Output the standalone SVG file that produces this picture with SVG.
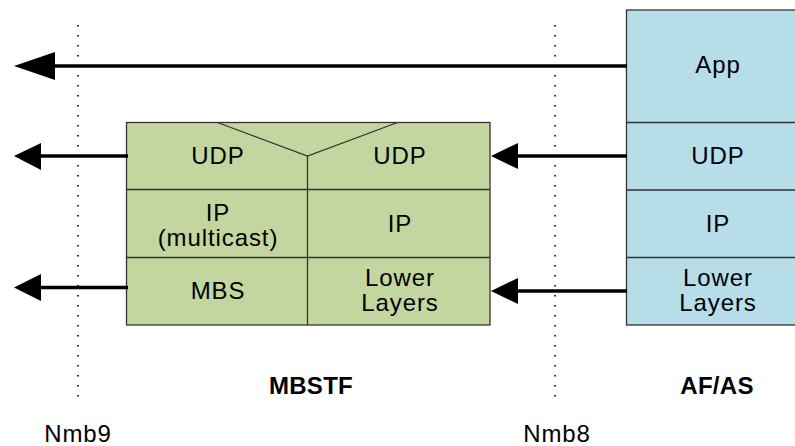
<svg xmlns="http://www.w3.org/2000/svg" width="795" height="446" viewBox="0 0 795 446">
<defs>
<style>
.t{font-family:"Liberation Sans",Arial,sans-serif;font-size:24px;letter-spacing:0.9px;fill:#000;text-anchor:middle}
.b{font-weight:bold;letter-spacing:0.3px}
.g{fill:#c4d6a0;stroke:#333;stroke-width:1.3}
.bl{fill:#b7dde8;stroke:#333;stroke-width:1.3}
.ln{fill:none;stroke:#333;stroke-width:1.3}
.dot{fill:none;stroke:#000;stroke-width:1.6;stroke-dasharray:1.6 8.4}
.ar{fill:none;stroke:#000;stroke-width:3.5}
</style>
</defs>
<g id="refpoints">
<line class="dot" x1="78" y1="25" x2="78" y2="398"/>
<line class="dot" x1="555" y1="25" x2="555" y2="398"/>
<text class="t" x="78" y="442">Nmb9</text>
<text class="t" x="557" y="442">Nmb8</text>
</g>
<g id="mbstf">
<rect class="g" x="126.5" y="122.5" width="363.5" height="202.5"/>
<line class="ln" x1="126.5" y1="189.5" x2="490" y2="189.5"/>
<line class="ln" x1="126.5" y1="257.5" x2="490" y2="257.5"/>
<line class="ln" x1="307.5" y1="156" x2="307.5" y2="325"/>
<polyline class="ln" points="217.5,122.5 307.5,156 397.5,122.5"/>
<text class="t" x="218" y="164">UDP</text>
<text class="t" x="218" y="221">IP</text>
<text class="t" x="218" y="246">(multicast)</text>
<text class="t" x="218" y="299">MBS</text>
<text class="t" x="400" y="164">UDP</text>
<text class="t" x="400" y="232">IP</text>
<text class="t" x="400" y="286">Lower</text>
<text class="t" x="400" y="311">Layers</text>
<text class="t b" x="311" y="394">MBSTF</text>
</g>
<g id="afas">
<rect class="bl" x="626.5" y="10" width="190" height="315"/>
<line class="ln" x1="626.5" y1="122.5" x2="800" y2="122.5"/>
<line class="ln" x1="626.5" y1="190" x2="800" y2="190"/>
<line class="ln" x1="626.5" y1="257.5" x2="800" y2="257.5"/>
<text class="t" x="718" y="73">App</text>
<text class="t" x="718" y="164">UDP</text>
<text class="t" x="718" y="232">IP</text>
<text class="t" x="718" y="286">Lower</text>
<text class="t" x="718" y="311">Layers</text>
<text class="t b" x="717" y="394">AF/AS</text>
</g>
<g id="connectors">
<line class="ar" x1="627" y1="66" x2="50" y2="66"/>
<polygon points="14,66 55,52 55,80" fill="#000"/>
<line class="ar" x1="128" y1="156" x2="38" y2="156"/>
<polygon points="14,156 41,143 41,170" fill="#000"/>
<line class="ar" x1="627" y1="156" x2="515" y2="156"/>
<polygon points="491,156 518,143 518,169" fill="#000"/>
<line class="ar" x1="128" y1="287.5" x2="38" y2="287.5"/>
<polygon points="14,287.5 41,274 41,301" fill="#000"/>
<line class="ar" x1="627" y1="291" x2="515" y2="291"/>
<polygon points="491,291 518,278 518,304" fill="#000"/>
</g>
</svg>
